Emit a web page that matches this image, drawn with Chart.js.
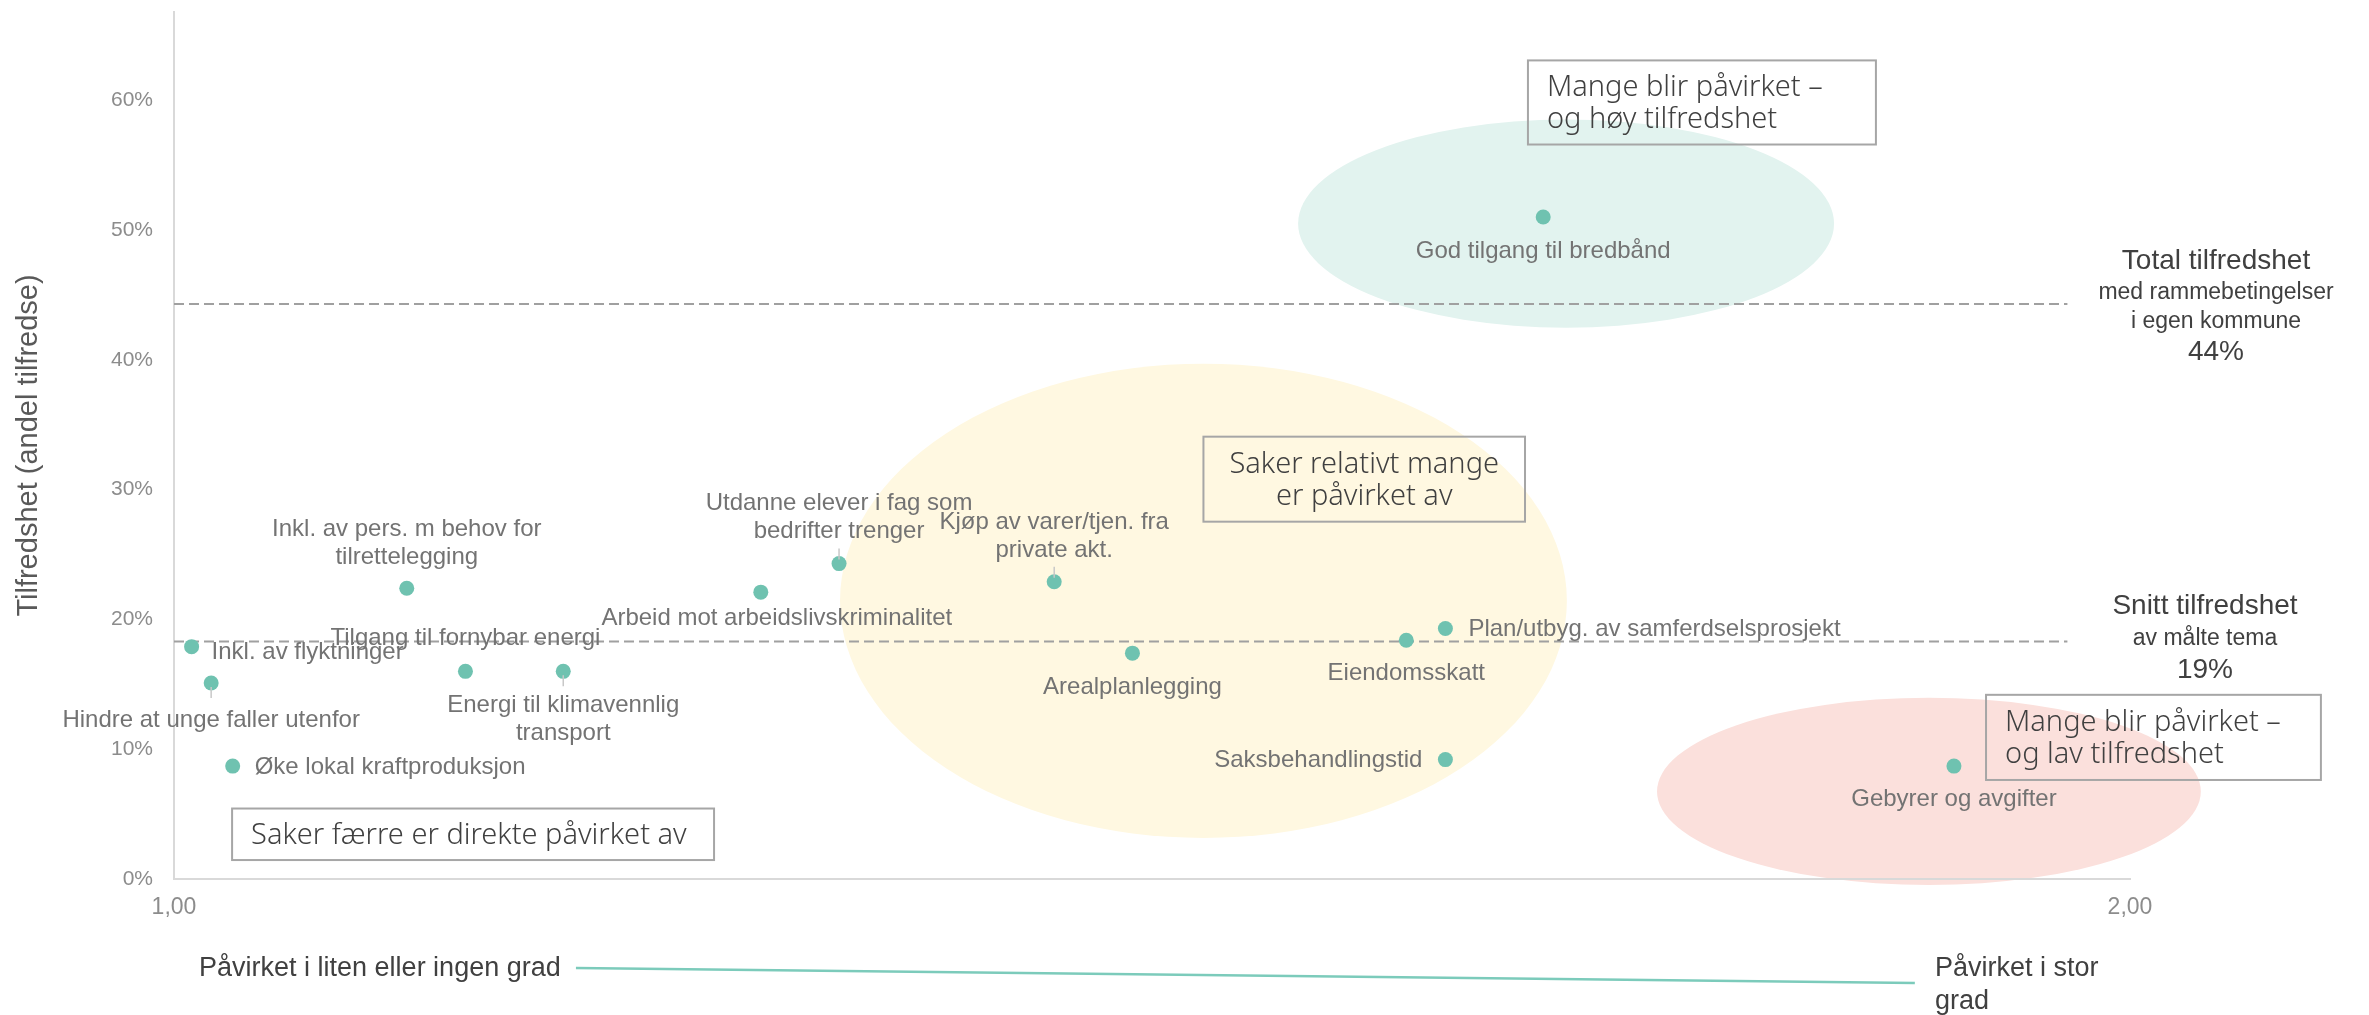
<!DOCTYPE html>
<html>
<head>
<meta charset="utf-8">
<script src="https://cdn.jsdelivr.net/npm/chart.js@4.4.1/dist/chart.umd.min.js"></script>
<style>
  html, body { margin: 0; padding: 0; background: #fff; }
</style>
</head>
<body>
<canvas id="matrixChart" width="2369" height="1015"></canvas>
<script>
// data
var topics = [
	'Inkl. av flyktninger',
	'Hindre at unge faller utenfor',
	'Øke lokal kraftproduksjon',
	'Inkl. av pers. m behov for\ntilrettelegging',
	'Tilgang til fornybar energi',
	'Energi til klimavennlig\ntransport',
	'Arbeid mot arbeidslivskriminalitet',
	'Utdanne elever i fag som\nbedrifter trenger',
	'Kjøp av varer/tjen. fra\nprivate akt.',
	'Arealplanlegging',
	'Eiendomsskatt',
	'Plan/utbyg. av samferdselsprosjekt',
	'Saksbehandlingstid',
	'God tilgang til bredbånd',
	'Gebyrer og avgifter'
];
var impact = [1.009, 1.019, 1.030, 1.119, 1.149, 1.199, 1.300, 1.340, 1.450, 1.490, 1.630, 1.650, 1.650, 1.700, 1.910];
var satisfaction = [0.179, 0.151, 0.087, 0.224, 0.160, 0.160, 0.221, 0.243, 0.229, 0.174, 0.184, 0.193, 0.092, 0.510, 0.087];

var yTicks = [0, 0.1, 0.2, 0.3, 0.4, 0.5, 0.6];
var xTicks = [1, 2];

var totalSatisfaction = 0.443;
var avgSatisfaction = 0.183;
var refLineStart = 1;
var refLineEnd = 1.968;

var totalText = ['Total tilfredshet', 'med rammebetingelser', 'i egen kommune', '44%'];
var avgText = ['Snitt tilfredshet', 'av målte tema', '19%'];

// label placement relative to the point: dx, dy, align, leader line
var labelPos = [
	[20, 6, 'left', null],
	[0, 37, 'center', 'down'],
	[22, 1, 'left', null],
	[0, -59, 'center', null],
	[0, -33, 'center', null],
	[0, 34, 'center', 'down'],
	[16, 26, 'center', null],
	[0, -60, 'center', 'up'],
	[0, -59, 'center', 'up'],
	[0, 34, 'center', null],
	[0, 33, 'center', null],
	[23, 1, 'left', null],
	[-23, 1, 'right', null],
	[0, 34, 'center', null],
	[0, 33, 'center', null]
];

// background zones (in axis units)
var zones = [
	{ cx: 1.7117, cy: 0.505, rx: 0.137, ry: 0.0802, color: '#e2f3ef' },
	{ cx: 1.5263, cy: 0.2143, rx: 0.1858, ry: 0.1827, color: '#fff8e1' },
	{ cx: 1.8972, cy: 0.0675, rx: 0.139, ry: 0.0721, color: '#fbe0dc' }
];

// text boxes (in axis units)
var boxes = [
	{ x1: 1.0297, x2: 1.2761, y1: 0.0543, y2: 0.0146, align: 'left', lines: ['Saker færre er direkte påvirket av'] },
	{ x1: 1.5263, x2: 1.6907, y1: 0.3408, y2: 0.2753, align: 'center', lines: ['Saker relativt mange', 'er påvirket av'] },
	{ x1: 1.6922, x2: 1.8701, y1: 0.6307, y2: 0.5659, align: 'left', lines: ['Mange blir påvirket –', 'og høy tilfredshet'] },
	{ x1: 1.9264, x2: 2.0976, y1: 0.1419, y2: 0.0763, align: 'left', lines: ['Mange blir påvirket –', 'og lav tilfredshet'] }
];

var ARIAL = "'Liberation Sans', Arial, sans-serif";
var GOTHIC = "'Noto Sans', 'DejaVu Sans', sans-serif";

var points = impact.map(function(v, i) {
	return { x: v, y: satisfaction[i] };
});

var zonesPlugin = {
	id: 'zones',
	beforeDraw: function(chart) {
		var ctx = chart.ctx, xs = chart.scales.x, ys = chart.scales.y;
		ctx.save();
		zones.forEach(function(z) {
			var cx = xs.getPixelForValue(z.cx), cy = ys.getPixelForValue(z.cy);
			var rx = xs.getPixelForValue(z.cx + z.rx) - cx;
			var ry = cy - ys.getPixelForValue(z.cy + z.ry);
			ctx.fillStyle = z.color;
			ctx.beginPath();
			ctx.ellipse(cx, cy, rx, ry, 0, 0, Math.PI * 2);
			ctx.fill();
		});
		ctx.restore();
	}
};

var labelsPlugin = {
	id: 'pointLabels',
	afterDatasetsDraw: function(chart) {
		var ctx = chart.ctx;
		var meta = chart.getDatasetMeta(0);
		ctx.save();
		ctx.font = '24px ' + ARIAL;
		ctx.fillStyle = '#737373';
		ctx.textBaseline = 'middle';
		meta.data.forEach(function(el, i) {
			var p = labelPos[i];
			var lines = topics[i].split('\n');
			ctx.textAlign = p[2];
			lines.forEach(function(line, k) {
				ctx.fillText(line, el.x + p[0], el.y + p[1] + k * 28);
			});
			if (p[3]) {
				var s = p[3] === 'down' ? 1 : -1;
				ctx.strokeStyle = '#c8c8c8';
				ctx.lineWidth = 1.5;
				ctx.beginPath();
				ctx.moveTo(el.x, el.y + s * 4);
				ctx.lineTo(el.x, el.y + s * 15);
				ctx.stroke();
			}
		});
		ctx.restore();
	}
};

var notesPlugin = {
	id: 'notes',
	afterDraw: function(chart) {
		var ctx = chart.ctx, xs = chart.scales.x, ys = chart.scales.y;
		var area = chart.chartArea;
		ctx.save();

		// boxes
		boxes.forEach(function(b) {
			var l = xs.getPixelForValue(b.x1), r = xs.getPixelForValue(b.x2);
			var t = ys.getPixelForValue(b.y1), btm = ys.getPixelForValue(b.y2);
			ctx.strokeStyle = '#a6a6a6';
			ctx.lineWidth = 2;
			ctx.strokeRect(l, t, r - l, btm - t);
			ctx.font = '300 29px ' + GOTHIC;
			ctx.fillStyle = '#404040';
			ctx.textBaseline = 'middle';
			ctx.textAlign = b.align;
			var tx = b.align === 'center' ? (l + r) / 2 : l + 19;
			var mid = (t + btm) / 2 + 1.5;
			var start = mid - (b.lines.length - 1) * 16;
			b.lines.forEach(function(line, k) {
				ctx.fillText(line, tx, start + k * 32);
			});
		});

		// side texts for reference lines
		ctx.textAlign = 'center';
		ctx.textBaseline = 'middle';
		ctx.fillStyle = '#404040';
		var ty = ys.getPixelForValue(totalSatisfaction);
		var tOff = [-43, -11, 18, 48];
		totalText.forEach(function(line, k) {
			ctx.font = (k === 0 || k === 3 ? '28px ' : '23px ') + ARIAL;
			ctx.fillText(line, area.right + 86, ty + tOff[k]);
		});
		var ay = ys.getPixelForValue(avgSatisfaction);
		var aOff = [-35, -3, 29];
		avgText.forEach(function(line, k) {
			ctx.font = (k === 1 ? '23px ' : '28px ') + ARIAL;
			ctx.fillText(line, area.right + 75, ay + aOff[k]);
		});

		// impact direction under the x axis
		ctx.strokeStyle = '#7ccbbb';
		ctx.lineWidth = 2.5;
		ctx.beginPath();
		ctx.moveTo(xs.getPixelForValue(1.2055), area.bottom + 89);
		ctx.lineTo(xs.getPixelForValue(1.890), area.bottom + 104);
		ctx.stroke();
		ctx.font = '27px ' + ARIAL;
		ctx.textAlign = 'left';
		ctx.fillText('Påvirket i liten eller ingen grad', xs.getPixelForValue(1.0128), area.bottom + 90);
		ctx.fillText('Påvirket i stor', xs.getPixelForValue(1.9003), area.bottom + 90);
		ctx.fillText('grad', xs.getPixelForValue(1.9003), area.bottom + 123);
		ctx.restore();
	}
};

var config = {
	type: 'scatter',
	data: {
		datasets: [{
			label: 'Tema',
			data: points,
			backgroundColor: '#6fc2b0',
			borderWidth: 0,
			pointRadius: 7.5,
			pointHoverRadius: 7.5
		}, {
			type: 'line',
			label: 'Total tilfredshet',
			data: [{ x: refLineStart, y: totalSatisfaction }, { x: refLineEnd, y: totalSatisfaction }],
			borderColor: '#a0a0a0',
			borderWidth: 2,
			borderDash: [10, 5],
			pointRadius: 0,
			fill: false
		}, {
			type: 'line',
			label: 'Snitt tilfredshet',
			data: [{ x: refLineStart, y: avgSatisfaction }, { x: refLineEnd, y: avgSatisfaction }],
			borderColor: '#a0a0a0',
			borderWidth: 2,
			borderDash: [10, 5],
			pointRadius: 0,
			fill: false
		}]
	},
	options: {
		responsive: false,
		animation: false,
		devicePixelRatio: 1,
		layout: {
			padding: { top: 12, right: 239, left: 0, bottom: 0 }
		},
		plugins: {
			legend: { display: false },
			tooltip: { enabled: false }
		},
		scales: {
			x: {
				type: 'linear',
				min: 1,
				max: 2,
				afterFit: function(scale) {
					scale.height = 136;
					scale.paddingLeft = 0;
					scale.paddingRight = 0;
				},
				afterBuildTicks: function(scale) {
					scale.ticks = xTicks.map(function(v) { return { value: v }; });
				},
				grid: { color: 'transparent', drawTicks: false },
				border: { display: true, color: '#d9d9d9', width: 2 },
				ticks: {
					padding: 15,
					color: '#8c8c8c',
					font: { family: ARIAL, size: 23 },
					callback: function(v) { return v.toFixed(2).replace('.', ','); }
				}
			},
			y: {
				type: 'linear',
				min: 0,
				max: 0.668,
				afterFit: function(scale) {
					scale.width = 174;
					scale.paddingTop = 0;
					scale.paddingBottom = 0;
				},
				afterBuildTicks: function(scale) {
					scale.ticks = yTicks.map(function(v) { return { value: v }; });
				},
				grid: { color: 'transparent', drawTicks: false },
				border: { display: true, color: '#d9d9d9', width: 2 },
				title: {
					display: true,
					text: 'Tilfredshet (andel tilfredse)',
					color: '#595959',
					font: { family: ARIAL, size: 29 },
					padding: { top: 12, bottom: 0 }
				},
				ticks: {
					padding: 21,
					color: '#8c8c8c',
					font: { family: ARIAL, size: 21 },
					callback: function(v) { return Math.round(v * 100) + '%'; }
				}
			}
		}
	},
	plugins: [zonesPlugin, labelsPlugin, notesPlugin]
};

window.onload = function() {
	var ctx = document.getElementById('matrixChart').getContext('2d');
	window.matrixChart = new Chart(ctx, config);
};
</script>
</body>
</html>
